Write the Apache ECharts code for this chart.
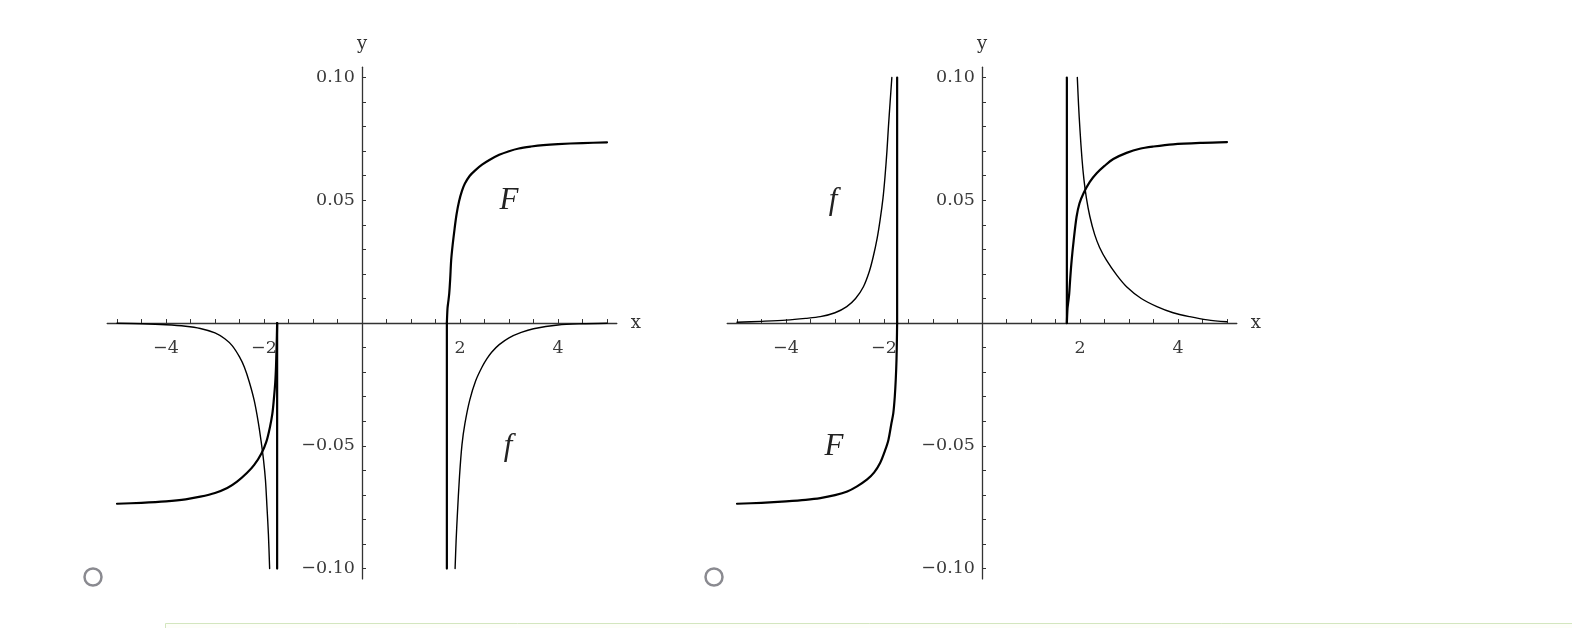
<!DOCTYPE html>
<html>
<head>
<meta charset="utf-8">
<script src="https://cdn.jsdelivr.net/npm/echarts@6/dist/echarts.min.js"></script>
<style>
html,body{margin:0;padding:0;background:#fff;}
#c{width:1572px;height:628px;}
</style>
</head>
<body>
<div id="c"></div>
<script>
// ---- Data ----
// Left panel
const leftF_neg = [[-5.0,-0.0736],[-4.5,-0.0732],[-4.0,-0.0726],[-3.6,-0.0718],[-3.3,-0.0707],[-3.0,-0.0692],[-2.75,-0.0672],[-2.55,-0.0646],[-2.35,-0.0611],[-2.2,-0.0578],[-2.05,-0.053],[-1.95,-0.0482],[-1.88,-0.0425],[-1.83,-0.0370],[-1.80,-0.0313],[-1.77,-0.0240],[-1.755,-0.0178],[-1.745,-0.0110],[-1.737,-0.0050],[-1.732,0]];
const leftF_negJump = [[-1.732,0],[-1.732,-0.1]];
const leftF_pos = [[1.732,0],[1.745,0.006],[1.76,0.0085],[1.78,0.012],[1.80,0.018],[1.82,0.0256],[1.85,0.0318],[1.89,0.0385],[1.93,0.0443],[1.98,0.0495],[2.04,0.0538],[2.10,0.0568],[2.2,0.0600],[2.31,0.0622],[2.45,0.0645],[2.6,0.0664],[2.8,0.0685],[3.0,0.0700],[3.2,0.0711],[3.45,0.0719],[3.7,0.0725],[4.0,0.0729],[4.5,0.0733],[5.0,0.0736]];
const leftF_posJump = [[1.732,-0.1],[1.732,0]];
const leftf_neg = [[-5.0,-0.0001],[-4.5,-0.0003],[-4.0,-0.0007],[-3.6,-0.0013],[-3.3,-0.0022],[-3.0,-0.0040],[-2.8,-0.0064],[-2.65,-0.0092],[-2.5,-0.0138],[-2.4,-0.0180],[-2.3,-0.0240],[-2.2,-0.0315],[-2.12,-0.0400],[-2.06,-0.0480],[-2.01,-0.0557],[-1.97,-0.0640],[-1.94,-0.0746],[-1.91,-0.0860],[-1.885,-0.1]];
const leftf_pos = [[1.90,-0.1],[1.92,-0.089],[1.945,-0.0785],[1.99,-0.0624],[2.04,-0.0496],[2.1,-0.041],[2.2,-0.0313],[2.32,-0.0235],[2.45,-0.0179],[2.55,-0.0145],[2.65,-0.0118],[2.8,-0.0088],[3.0,-0.0060],[3.25,-0.0038],[3.5,-0.0023],[4.0,-0.0008],[4.5,-0.0003],[5.0,-0.0001]];
// Right panel
const rightF_neg = [[-5.0,-0.0736],[-4.5,-0.0732],[-4.0,-0.0726],[-3.6,-0.0720],[-3.3,-0.0713],[-3.0,-0.0701],[-2.75,-0.0686],[-2.55,-0.0665],[-2.35,-0.0638],[-2.2,-0.0608],[-2.08,-0.057],[-1.98,-0.052],[-1.91,-0.0476],[-1.85,-0.041],[-1.81,-0.0367],[-1.78,-0.030],[-1.76,-0.0230],[-1.745,-0.0150],[-1.737,-0.0070],[-1.732,0]];
const rightF_negJump = [[-1.732,0],[-1.732,0.1]];
const rightF_pos = [[1.732,0],[1.745,0.006],[1.76,0.0085],[1.78,0.012],[1.80,0.018],[1.83,0.0256],[1.87,0.0335],[1.93,0.0433],[1.99,0.0488],[2.07,0.0528],[2.2,0.0575],[2.34,0.061],[2.5,0.0640],[2.68,0.0668],[2.95,0.0693],[3.22,0.0710],[3.5,0.0719],[3.9,0.0728],[4.5,0.0734],[5.0,0.0737]];
const rightF_posJump = [[1.732,0.1],[1.732,0]];
const rightf_neg = [[-5.0,0.0003],[-4.5,0.0007],[-4.0,0.0012],[-3.6,0.0019],[-3.3,0.0026],[-3.0,0.0042],[-2.76,0.0067],[-2.58,0.0100],[-2.42,0.0148],[-2.3,0.0210],[-2.22,0.0270],[-2.14,0.0345],[-2.08,0.0419],[-2.02,0.0510],[-1.98,0.0595],[-1.94,0.0700],[-1.91,0.0798],[-1.875,0.0900],[-1.84,0.1]];
const rightf_pos = [[1.945,0.1],[1.97,0.089],[2.0,0.0785],[2.04,0.067],[2.08,0.0585],[2.13,0.051],[2.2,0.0435],[2.3,0.036],[2.4,0.0308],[2.54,0.0256],[2.75,0.0195],[2.95,0.0148],[3.25,0.0100],[3.57,0.0067],[3.9,0.0042],[4.24,0.0026],[4.6,0.0013],[5.0,0.0005]];

// Ticks and labels
const xLabelValues = [-4, -2, 2, 4];
const xTickValues = [-5,-4.5,-4,-3.5,-3,-2.5,-2,-1.5,-1,-0.5,0.5,1,1.5,2,2.5,3,3.5,4,4.5,5];
const yLabelValues = [-0.1, -0.05, 0.05, 0.1];
const yTickValues = [-0.1,-0.09,-0.08,-0.07,-0.06,-0.05,-0.04,-0.03,-0.02,-0.01,0.01,0.02,0.03,0.04,0.05,0.06,0.07,0.08,0.09,0.1];
const curveLabels = [
  {text: 'F', x: 509, y: 201}, {text: 'f', x: 508, y: 447},
  {text: 'f', x: 833, y: 201}, {text: 'F', x: 834, y: 447}
];

const serif = '"DejaVu Serif", "Liberation Serif", serif';
const axisColor = '#333';
const GRID_W = 509.6, GRID_H = 511.7;

function fmtX(v){ v = Number(v); return v < 0 ? '\u2212' + Math.abs(v) : String(v); }
function fmtY(v){ v = Number(v); const s = Math.abs(v).toFixed(2); return v < 0 ? '\u2212' + s : s; }

function makeX(gi){
  return {
    type: 'value', gridIndex: gi, min: -5.2, max: 5.2, position: 'bottom', offset: -GRID_H / 2,
    name: 'x', nameLocation: 'end', nameGap: 14,
    nameTextStyle: {fontFamily: serif, fontSize: 18, color: '#333', verticalAlign: 'middle'},
    axisLine: {onZero: false, lineStyle: {color: axisColor, width: 1.3}},
    axisTick: {inside: true, length: 4, customValues: xTickValues, lineStyle: {color: axisColor, width: 1}},
    axisLabel: {customValues: xLabelValues, formatter: fmtX, margin: 16, fontFamily: serif, fontSize: 17.5, color: '#3a3a3a'},
    splitLine: {show: false}
  };
}
function makeY(gi){
  return {
    type: 'value', gridIndex: gi, min: -0.1042, max: 0.1042, position: 'left', offset: -GRID_W / 2,
    name: 'y', nameLocation: 'end', nameGap: 14,
    nameTextStyle: {fontFamily: serif, fontSize: 18, color: '#333', align: 'center'},
    axisLine: {onZero: false, lineStyle: {color: axisColor, width: 1.3}},
    axisTick: {inside: true, length: 4, customValues: yTickValues, lineStyle: {color: axisColor, width: 1}},
    axisLabel: {customValues: yLabelValues, formatter: fmtY, margin: 7, fontFamily: serif, fontSize: 17.5, color: '#3a3a3a'},
    splitLine: {show: false}
  };
}
function line(data, gi, width, smooth){
  return {
    type: 'line', xAxisIndex: gi, yAxisIndex: gi, data: data,
    showSymbol: false, symbol: 'none', smooth: smooth, silent: true,
    lineStyle: {color: '#000', width: width, cap: 'round', join: 'round'}, z: 3
  };
}

const chart = echarts.init(document.getElementById('c'), null, {renderer: 'canvas'});
const graphics = curveLabels.map(l => ({
  type: 'text', x: l.x, y: l.y, z: 10,
  style: {text: l.text, font: 'italic 31px "Liberation Serif", "DejaVu Serif", serif', fill: '#222', textAlign: 'center', textVerticalAlign: 'middle'}
}));
graphics.push(
  {type: 'circle', shape: {cx: 93, cy: 577, r: 8.5}, style: {fill: '#fff', stroke: '#8a8a90', lineWidth: 2.5}},
  {type: 'circle', shape: {cx: 714, cy: 577, r: 8.5}, style: {fill: '#fff', stroke: '#8a8a90', lineWidth: 2.5}},
  {type: 'rect', shape: {x: 165.5, y: 623.5, width: 1420, height: 30}, style: {fill: '#fdfef9', stroke: '#d3e6bf', lineWidth: 1}}
);

const S = 0.3;
chart.setOption({
  animation: false,
  backgroundColor: '#fff',
  grid: [
    {left: 107.2, top: 67.2, width: GRID_W, height: GRID_H},
    {left: 727.2, top: 67.2, width: GRID_W, height: GRID_H}
  ],
  xAxis: [makeX(0), makeX(1)],
  yAxis: [makeY(0), makeY(1)],
  series: [
    line(leftF_neg, 0, 2.2, S), line(leftF_negJump, 0, 2.2, false),
    line(leftF_pos, 0, 2.2, S), line(leftF_posJump, 0, 2.2, false),
    line(leftf_neg, 0, 1.4, S), line(leftf_pos, 0, 1.4, S),
    line(rightF_neg, 1, 2.2, S), line(rightF_negJump, 1, 2.2, false),
    line(rightF_pos, 1, 2.2, S), line(rightF_posJump, 1, 2.2, false),
    line(rightf_neg, 1, 1.4, S), line(rightf_pos, 1, 1.4, S)
  ],
  graphic: graphics
});
</script>
</body>
</html>
